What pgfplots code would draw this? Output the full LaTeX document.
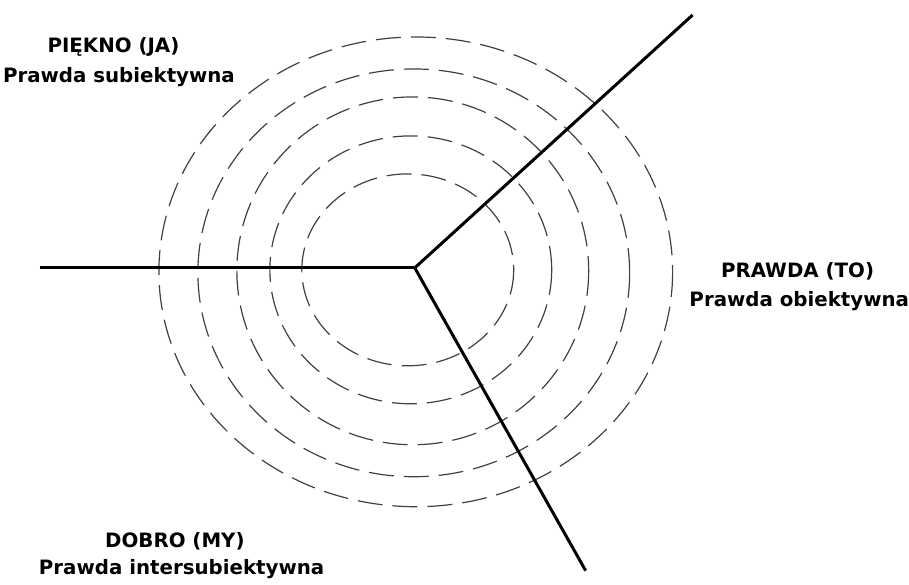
\documentclass[border=0pt]{standalone}
\usepackage{fontspec}
\setmainfont{DejaVu Sans}
\usepackage{pgfplots}
\pgfplotsset{compat=1.18}
\begin{document}
\begin{tikzpicture}
\begin{axis}[
  width=909pt, height=585pt, scale only axis,
  xmin=0, xmax=909, ymin=0, ymax=585, y dir=reverse,
  hide axis, clip=false,
]
% invisible frame to fix the bounding box
\addplot[draw=none] coordinates {(0,0) (909,585)};
% dashed concentric rings (centre x, centre y, x radius, y radius)
\draw[black!75, line width=1.2pt, dash pattern=on 25pt off 10pt] (axis cs:408,270) ellipse [x radius=106, y radius=96];
\draw[black!75, line width=1.2pt, dash pattern=on 25pt off 10pt] (axis cs:411,270) ellipse [x radius=141, y radius=134];
\draw[black!75, line width=1.2pt, dash pattern=on 25pt off 10pt] (axis cs:413,271) ellipse [x radius=176, y radius=174];
\draw[black!75, line width=1.2pt, dash pattern=on 25pt off 10pt] (axis cs:414,273) ellipse [x radius=216, y radius=204];
\draw[black!75, line width=1.2pt, dash pattern=on 25pt off 10pt] (axis cs:416,272) ellipse [x radius=257, y radius=235];
% three solid rays
\addplot[black, line width=3pt] coordinates {(40,268) (415,268)};
\addplot[black, line width=3pt] coordinates {(415,268) (693,15)};
\addplot[black, line width=3pt] coordinates {(415,268) (586,571)};
% labels
\begin{scope}[every node/.style={font=\bfseries\fontsize{19.8}{24}\selectfont, inner sep=0pt, anchor=base}]
\node at (axis cs:113.5,53) {PIĘKNO (JA)};
\node at (axis cs:119,83) {Prawda subiektywna};
\node at (axis cs:798,278) {PRAWDA (TO)};
\node at (axis cs:799.7,306.7) {Prawda obiektywna};
\node at (axis cs:175,548) {DOBRO (MY)};
\node at (axis cs:181.7,575) {Prawda intersubiektywna};
\end{scope}
\end{axis}
\end{tikzpicture}
\end{document}
